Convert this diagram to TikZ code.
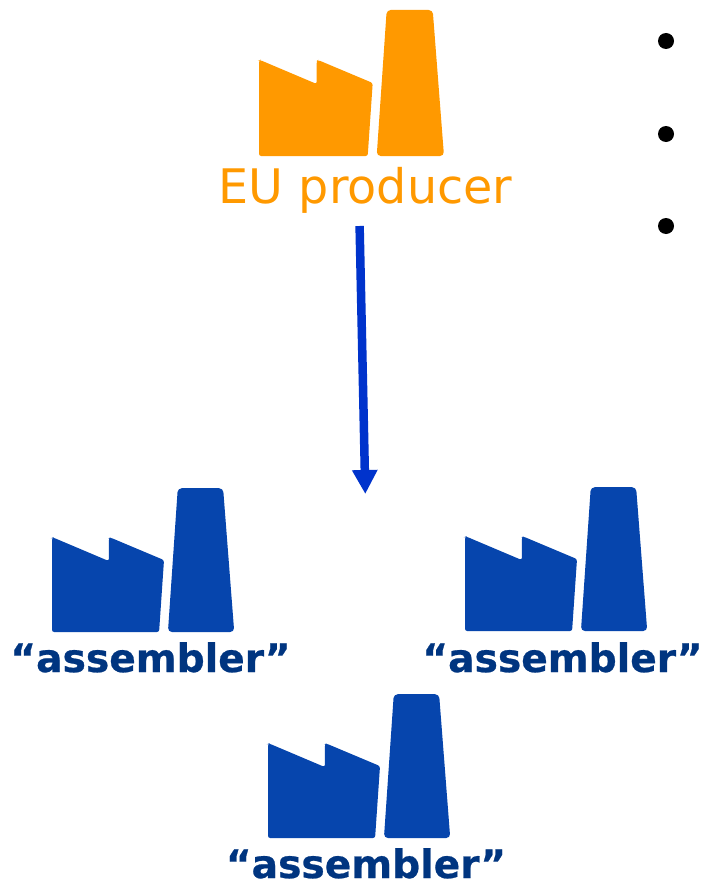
\documentclass[tikz,border=0pt]{standalone}
\usepackage{fontspec}
\setmainfont{DejaVu Sans}[BoldFeatures={FakeBold=0.6}]
\usetikzlibrary{arrows.meta}
\definecolor{orangeF}{HTML}{FF9900}
\definecolor{blueF}{HTML}{0645AD}
\definecolor{blueT}{HTML}{003580}
\definecolor{arrowB}{HTML}{0033CC}
\tikzset{
  x=1pt,y=-1pt,
  factory/.pic={
    \fill[rounded corners=2.2pt] (0,0) -- (0,-95.6) -- (1,-96) -- (57.7,-72) -- (57.7,-95) -- (59,-96) -- (113.7,-73) -- (108.7,0) -- cycle;
    \fill[rounded corners=4pt] (117.7,0) -- (127.7,-146) -- (173.7,-146) -- (185,0) -- cycle;
  },
  orangelabel/.style={text=orangeF,font=\fontsize{47.6}{50}\selectfont,inner sep=0pt,anchor=base},
  bluelabel/.style={text=blueT,font=\fontsize{39.2}{44}\selectfont\bfseries,inner sep=0pt,anchor=base},
  bulletdot/.style={circle,fill=black,inner sep=0pt,minimum size=16pt},
  flow/.style={draw=arrowB,line width=8.5pt,-{Triangle[length=24pt,width=24pt]}},
}
\begin{document}
\begin{tikzpicture}
\useasboundingbox (0,0) rectangle (701,883);
\fill[white] (0,0) rectangle (701,883);
\pic[orangeF] (prod) at (259,156) {factory};
\pic[blueF,scale=0.985] (asmL) at (52,632) {factory};
\pic[blueF,scale=0.985] (asmR) at (465,631) {factory};
\pic[blueF,scale=0.985] (asmB) at (268,838) {factory};
\node[orangelabel] (lprod) at (365.5,203) {EU producer};
\node[bluelabel] (lL) at (150.5,672) {“assembler”};
\node[bluelabel] (lR) at (562.5,672) {“assembler”};
\node[bluelabel] (lB) at (366,878) {“assembler”};
\node[bulletdot] (b1) at (666,41) {};
\node[bulletdot] (b2) at (666,134) {};
\node[bulletdot] (b3) at (666,226) {};
\coordinate (from) at (359.6,226);
\coordinate (to) at (365.3,494);
\draw[flow] (from) -- (to);
\end{tikzpicture}
\end{document}
